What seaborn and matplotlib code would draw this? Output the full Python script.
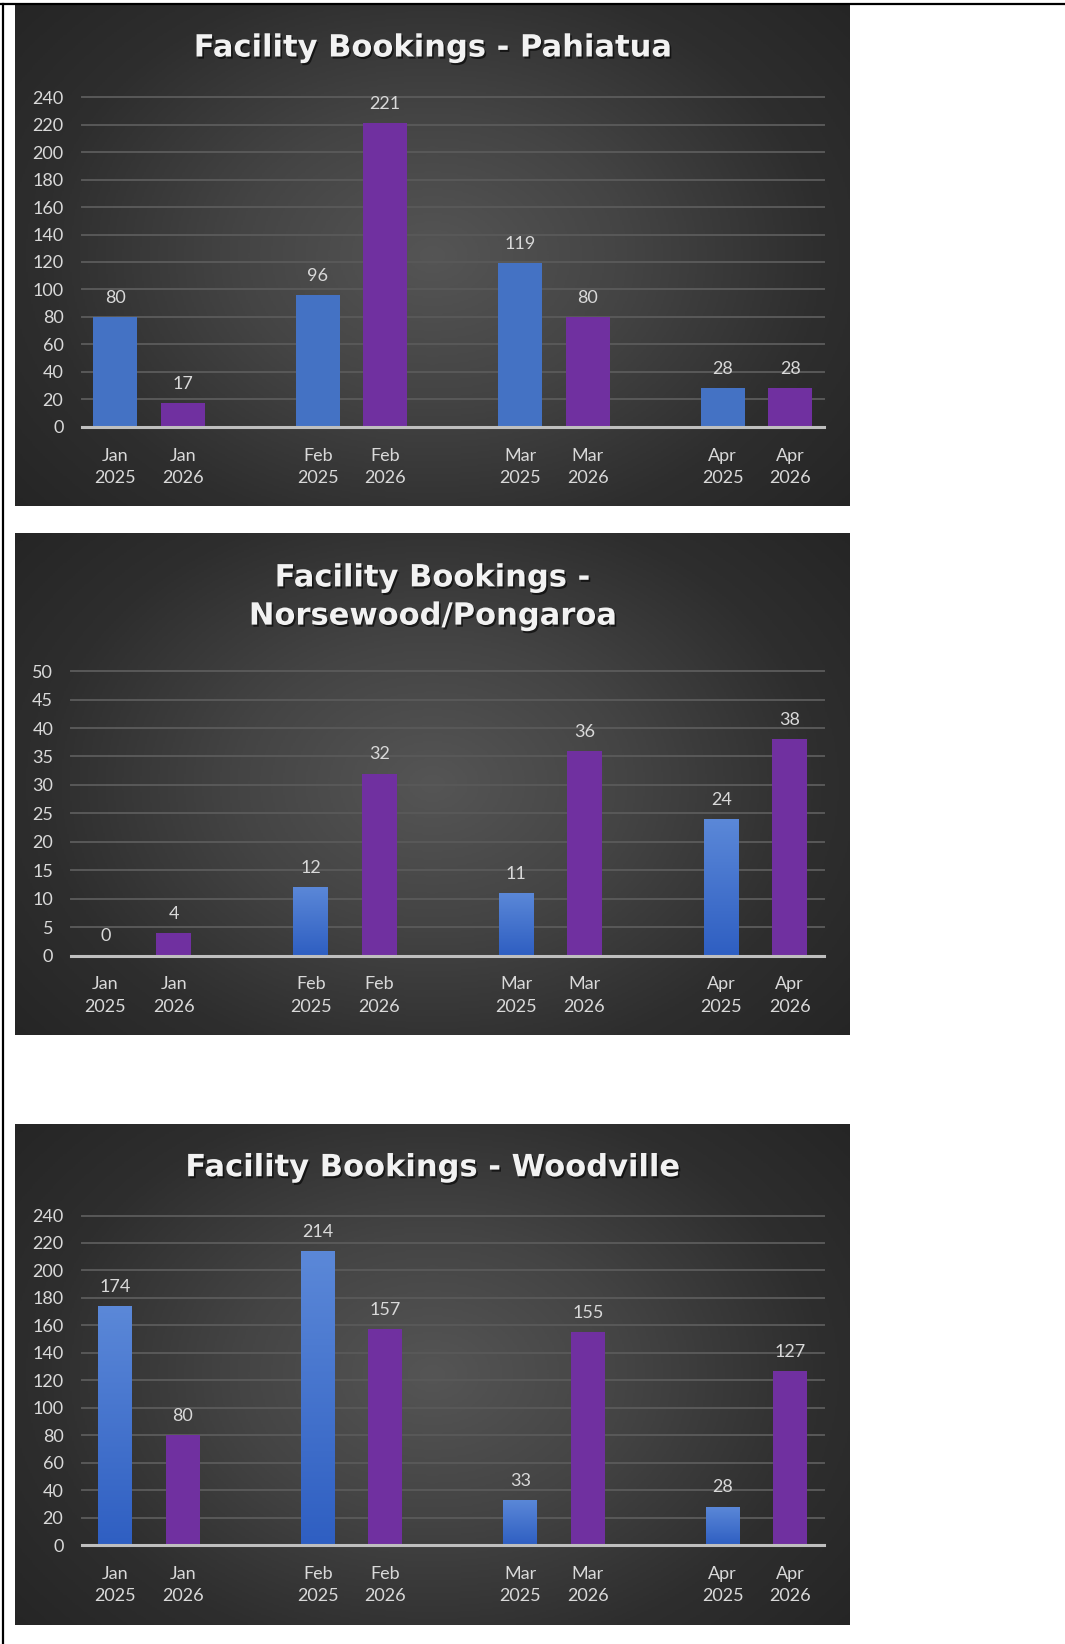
import numpy as np
import pandas as pd
import matplotlib
matplotlib.use('Agg')
import matplotlib.pyplot as plt
import matplotlib.patheffects as pe
from matplotlib.colors import LinearSegmentedColormap
from matplotlib.lines import Line2D
import seaborn as sns

# ---- data ----
months = ['Jan', 'Feb', 'Mar', 'Apr']
years = ['2025', '2026']

pahiatua_2025 = [80, 96, 119, 28]
pahiatua_2026 = [17, 221, 80, 28]
norsewood_2025 = [0, 12, 11, 24]
norsewood_2026 = [4, 32, 36, 38]
woodville_2025 = [174, 214, 33, 28]
woodville_2026 = [80, 157, 155, 127]

titles = ['Facility Bookings - Pahiatua',
          'Facility Bookings -\nNorsewood/Pongaroa',
          'Facility Bookings - Woodville']
y_max = [240, 50, 240]
y_step = [20, 5, 20]

BLUE = '#4472C4'
PURPLE = '#7030A0'
TEXT = '#D9D9D9'

W, H = 1065, 1644
plt.rcParams['font.family'] = ['Lato', 'DejaVu Sans']


def rect(x0, y0, x1, y1):
    return [x0 / W, 1 - y1 / H, (x1 - x0) / W, (y1 - y0) / H]


def make_df(v25, v26):
    rows = []
    for m, a, b in zip(months, v25, v26):
        rows.append({'label': m + '\n' + years[0], 'year': years[0], 'value': a})
        rows.append({'label': m + '\n' + years[1], 'year': years[1], 'value': b})
    return pd.DataFrame(rows)


# blank slots between months, like the gaps in the excel chart
order = []
for i, m in enumerate(months):
    order += [m + '\n' + y for y in years]
    if i < len(months) - 1:
        order.append(' ' * (i + 1))

frames = [make_df(pahiatua_2025, pahiatua_2026),
          make_df(norsewood_2025, norsewood_2026),
          make_df(woodville_2025, woodville_2026)]

# ---- layout (pixels) ----
panels = [(15, 5, 850, 506), (15, 533.4, 850, 1034.7), (15, 1124.3, 850, 1624.6)]
plots = [(81.5, 97.3, 824, 426.7), (71.3, 671.2, 824, 955.5), (81.5, 1215.5, 824, 1545)]
title_y = [48, 597, 1167.7]
bar_w = [0.65, 0.51, 0.5]
blue_grad = [False, True, True]

bg_cmap = LinearSegmentedColormap.from_list('bg', ['#555555', '#444444', '#2e2e2e', '#232323'])
blue_cmap = LinearSegmentedColormap.from_list('bl', ['#2F5FC2', '#5B88D8'])

fig = plt.figure(figsize=(W / 100, H / 100), dpi=100, facecolor='white')

for k in range(3):
    # ---- background ----
    bg = fig.add_axes(rect(*panels[k]))
    yy, xx = np.mgrid[0:1:300j, 0:1:500j]
    r = np.sqrt(((xx - 0.5) / 0.7) ** 2 + ((yy - 0.5) / 0.85) ** 2)
    bg.imshow(np.clip(r, 0, 1), cmap=bg_cmap, vmin=0, vmax=1, aspect='auto',
              extent=[0, 1, 0, 1], origin='lower')
    bg.axis('off')

    # ---- bars ----
    ax = fig.add_axes(rect(*plots[k]))
    ax.patch.set_alpha(0)
    sns.barplot(data=frames[k], x='label', y='value', hue='year', order=order,
                hue_order=years, palette={years[0]: BLUE, years[1]: PURPLE},
                dodge=False, width=bar_w[k], saturation=1, legend=False,
                errorbar=None, ax=ax, zorder=2)

    if blue_grad[k]:
        for bar in ax.containers[0]:
            x0, y0 = bar.get_x(), bar.get_y()
            x1, y1 = x0 + bar.get_width(), y0 + bar.get_height()
            if y1 - y0 <= 0:
                continue
            im = ax.imshow(np.linspace(0, 1, 100).reshape(-1, 1), cmap=blue_cmap,
                           extent=[x0, x1, y0, y1], aspect='auto', origin='lower',
                           zorder=2.5)
            im.set_clip_path(bar)

    ax.set_xlim(-0.5, len(order) - 0.5)
    ax.set_ylim(0, y_max[k])
    ax.set_yticks(np.arange(0, y_max[k] + 1, y_step[k]))
    ax.grid(axis='y', color='#595959', lw=1.4)
    ax.grid(axis='x', visible=False)
    ax.set_axisbelow(True)
    for gl in ax.get_ygridlines():
        gl.set_clip_on(False)
    ax.axhline(0, color='#BFBFBF', lw=2.2, zorder=4, clip_on=False)
    for s in ax.spines.values():
        s.set_visible(False)
    ax.set_xlabel('')
    ax.set_ylabel('')
    ax.tick_params(axis='both', length=0, labelcolor=TEXT, labelsize=13)
    ax.tick_params(axis='y', pad=13)
    ax.tick_params(axis='x', pad=15)
    for lbl in ax.get_xticklabels():
        lbl.set_linespacing(1.5)

    for c in ax.containers:
        ax.bar_label(c, fmt='%g', color=TEXT, fontsize=13, padding=8)

    fig.text(432 / W, 1 - title_y[k] / H, titles[k], ha='center', va='center',
             fontsize=22, fontweight='bold', color='#F2F2F2', linespacing=1.4,
             family=['DejaVu Sans'],
             path_effects=[pe.withSimplePatchShadow(offset=(1.2, -1.5),
                                                    shadow_rgbFace='black', alpha=0.6)])

# page border lines
fig.add_artist(Line2D([0, 1], [1 - 4.5 / H, 1 - 4.5 / H], color='black', lw=1.6))
fig.add_artist(Line2D([3 / W, 3 / W], [0, 1 - 4.5 / H], color='black', lw=1.6))

fig.savefig('out.png', dpi=100, facecolor='white')
